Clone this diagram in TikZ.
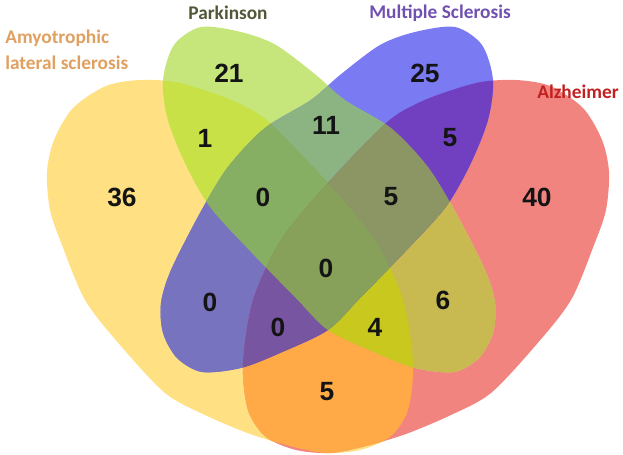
\documentclass[tikz,border=0pt]{standalone}
\usepackage{fontspec}
\setmainfont{Liberation Sans}
\newfontfamily\carlito{Carlito}
\usepackage{tikz}

% base colours of the four sets
\definecolor{alsY}{HTML}{FFE082}
\definecolor{pdG}{HTML}{C6E67C}
\definecolor{msB}{HTML}{7A7AF2}
\definecolor{adR}{HTML}{F28480}
% overlaps
\definecolor{YG}{HTML}{C8E146}
\definecolor{YB}{HTML}{7873BE}
\definecolor{YR}{HTML}{FFAA46}
\definecolor{GB}{HTML}{8CB482}
\definecolor{GR}{HTML}{C8B950}
\definecolor{BR}{HTML}{7040C0}
\definecolor{YGB}{HTML}{87AF64}
\definecolor{YGR}{HTML}{C8C81E}
\definecolor{YBR}{HTML}{7855A0}
\definecolor{GBR}{HTML}{8C9664}
\definecolor{YGBR}{HTML}{87A05A}
% label colours
\definecolor{alsT}{HTML}{E0A060}
\definecolor{pdT}{HTML}{505838}
\definecolor{msT}{HTML}{7050B0}
\definecolor{adT}{HTML}{C02020}

\newcommand{\alsset}{plot[smooth cycle] coordinates {(47,172) (50,210) (62,245) (85,300) (120,345) (165,393) (205,415) (250,434) (290,446) (325,453) (360,450) (390,437) (408,410) (413,363) (403,300) (375,240) (328,183) (270,123) (240,104) (210,92) (175,82) (140,80) (106,86) (73,108) (54,140)}}
\newcommand{\adset}{plot[smooth cycle] coordinates {(609,172) (606,210) (594,245) (571,300) (536,345) (491,393) (451,415) (406,434) (366,446) (331,453) (296,450) (266,437) (248,410) (243,363) (253,300) (281,240) (328,183) (386,123) (416,104) (446,92) (481,82) (516,80) (550,86) (583,108) (602,140)}}
\newcommand{\msset}{plot[smooth cycle] coordinates {(415,32) (455,27) (482,45) (493,80) (488,120) (470,165) (445,208) (400,257) (360,298) (328,330) (280,353) (241,368) (202,372) (177,358) (163,333) (161,303) (171,270) (200,213) (228,167) (265,128) (311,100) (340,75) (380,45)}}
\newcommand{\pdset}{plot[smooth cycle] coordinates {(241,32) (201,27) (174,45) (163,80) (168,120) (186,165) (211,208) (256,257) (296,298) (328,330) (376,353) (415,368) (454,372) (479,358) (493,333) (495,303) (485,270) (456,213) (428,167) (391,128) (345,100) (316,75) (276,45)}}

\tikzset{
  num/.style={font=\bfseries\fontsize{15}{18}\selectfont, text=black!92, inner sep=0pt},
  settitle/.style={font=\carlito\bfseries\fontsize{11}{14.7}\selectfont, inner sep=0pt}
}

\begin{document}
\begin{tikzpicture}[x=0.02cm,y=-0.02cm]
  \useasboundingbox (0,0) rectangle (623,455);
  % single sets
  \fill[alsY] \alsset;
  \fill[adR] \adset;
  \fill[pdG] \pdset;
  \fill[msB] \msset;
  % pairs
  \begin{scope}\clip \alsset; \fill[YG] \pdset; \end{scope}
  \begin{scope}\clip \alsset; \fill[YB] \msset; \end{scope}
  \begin{scope}\clip \alsset; \fill[YR] \adset; \end{scope}
  \begin{scope}\clip \pdset; \fill[GB] \msset; \end{scope}
  \begin{scope}\clip \pdset; \fill[GR] \adset; \end{scope}
  \begin{scope}\clip \msset; \fill[BR] \adset; \end{scope}
  % triples
  \begin{scope}\clip \alsset; \clip \pdset; \fill[YGB] \msset; \end{scope}
  \begin{scope}\clip \alsset; \clip \pdset; \fill[YGR] \adset; \end{scope}
  \begin{scope}\clip \alsset; \clip \msset; \fill[YBR] \adset; \end{scope}
  \begin{scope}\clip \pdset; \clip \msset; \fill[GBR] \adset; \end{scope}
  % all four
  \begin{scope}\clip \alsset; \clip \pdset; \clip \msset; \fill[YGBR] \adset; \end{scope}

  % set names
  \node[settitle, text=alsT, align=left, anchor=west] (alsname) at (5,50) {Amyotrophic\\lateral sclerosis};
  \node[settitle, text=pdT] (pdname) at (228,13) {Parkinson};
  \node[settitle, text=msT] (msname) at (440,13) {Multiple Sclerosis};
  \node[settitle, text=adT] (adname) at (578,92) {Alzheimer};

  % counts
  \node[num] (nY) at (122,197) {36};
  \node[num] (nG) at (229,73) {21};
  \node[num] (nB) at (425,73) {25};
  \node[num] (nR) at (537,197) {40};
  \node[num] (nYG) at (205,138) {1};
  \node[num] (nGB) at (326,125) {11};
  \node[num] (nBR) at (450,138) {5};
  \node[num] (nYB) at (210,302) {0};
  \node[num] (nGR) at (443,300) {6};
  \node[num] (nYR) at (327,392) {5};
  \node[num] (nYGB) at (263,197) {0};
  \node[num] (nGBR) at (391,197) {5};
  \node[num] (nYBR) at (278,327) {0};
  \node[num] (nYGR) at (375,327) {4};
  \node[num] (nYGBR) at (326,268) {0};
\end{tikzpicture}
\end{document}
